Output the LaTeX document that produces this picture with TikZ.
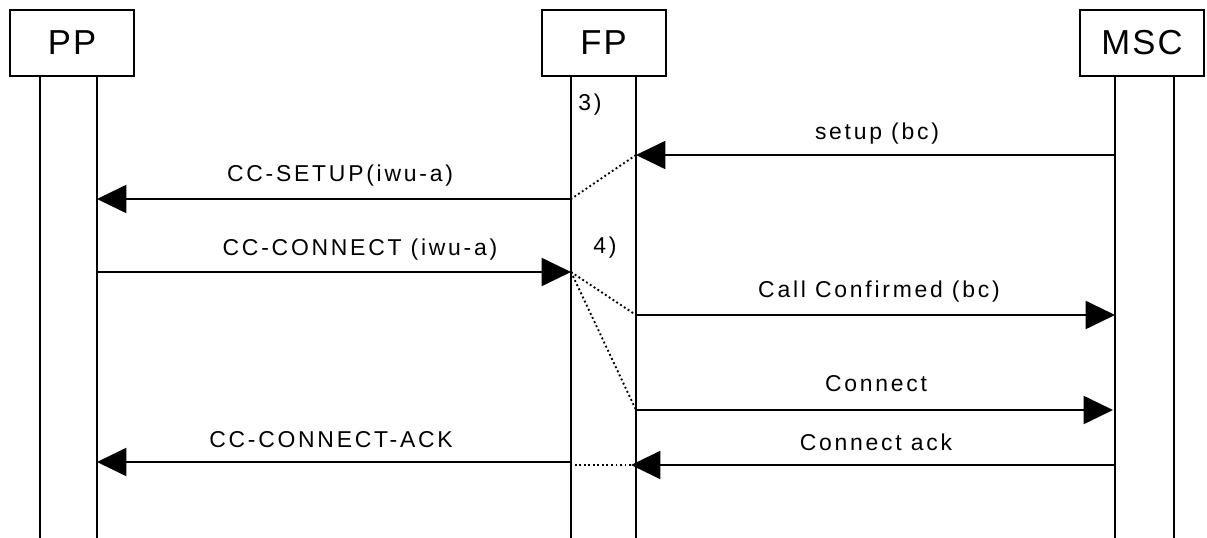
\documentclass[tikz,border=0pt]{standalone}
\usepackage{fontspec}
\setmainfont{Liberation Sans}[LetterSpace=12]
\usetikzlibrary{arrows.meta}

\tikzset{
	entity/.style={draw, line width=1.5pt, minimum width=93pt, minimum height=49pt, inner sep=0pt, font=\fontsize{26}{28}\selectfont\addfontfeatures{LetterSpace=6}},
	life/.style={line width=1.5pt},
	msg/.style={line width=1.5pt, -{Triangle[length=22pt, width=21pt]}},
	hint/.style={line width=1.4pt, dotted},
	lbl/.style={inner sep=0pt, font=\fontsize{17.2}{19}\selectfont},
}

\begin{document}
\begin{tikzpicture}[x=0.75pt, y=-0.75pt]
		%%%%% START %%%%%
		
		\useasboundingbox (0, 0) rectangle (1207, 538);
		
		\node[entity] (pp) at (72, 43) {PP};
		\node[entity] (fp) at (603.5, 43) {FP};
		\node[entity] (msc) at (1142, 43) {MSC};
		
		\draw[life] (40, 76) -- (40, 538);
		\draw[life] (97, 76) -- (97, 538);
		\draw[life] (571, 76) -- (571, 538);
		\draw[life] (636, 76) -- (636, 538);
		\draw[life] (1115, 76) -- (1115, 538);
		\draw[life] (1174, 76) -- (1174, 538);
		
		\coordinate (mscA) at (1115, 155);
		\coordinate (fpA) at (636, 155);
		\coordinate (fpB) at (571, 199);
		\coordinate (ppB) at (97, 199);
		\coordinate (ppC) at (97, 272);
		\coordinate (fpC) at (571, 272);
		\coordinate (fpD) at (636, 315);
		\coordinate (mscD) at (1115, 315);
		\coordinate (fpE) at (636, 410);
		\coordinate (mscE) at (1113, 410);
		\coordinate (mscF) at (1115, 465);
		\coordinate (fpF) at (631, 465);
		\coordinate (fpH) at (571, 465);
		\coordinate (fpG) at (571, 462);
		\coordinate (ppG) at (97, 462);
		
		\draw[msg] (mscA) -- (fpA);
		\draw[hint] (fpA) -- (fpB);
		\draw[msg] (fpB) -- (ppB);
		
		\draw[msg] (ppC) -- (fpC);
		\draw[hint] (fpC) -- (fpD);
		\draw[hint] (fpC) -- (fpE);
		\draw[msg] (fpD) -- (mscD);
		\draw[msg] (fpE) -- (mscE);
		
		\draw[msg] (mscF) -- (fpF);
		\draw[hint] (fpF) -- (fpH);
		\draw[msg] (fpG) -- (ppG);
		
		\node[lbl] (t3) at (590, 105) {3)};
		\node[lbl] (t4) at (605, 248) {4)};
		
		\node[lbl] (setup) at (877, 134) {setup (bc)};
		\node[lbl] (ccsetup) at (340, 176) {CC-SETUP(iwu-a)};
		\node[lbl] (ccconnect) at (360, 250) {CC-CONNECT (iwu-a)};
		\node[lbl] (callconf) at (879, 292) {Call Confirmed (bc)};
		\node[lbl] (connect) at (876, 384) {Connect};
		\node[lbl] (connack) at (876, 442) {Connect ack};
		\node[lbl] (ccack) at (331, 440) {CC-CONNECT-ACK};
		
		%%%%% END %%%%%
	\end{tikzpicture}
\end{document}
